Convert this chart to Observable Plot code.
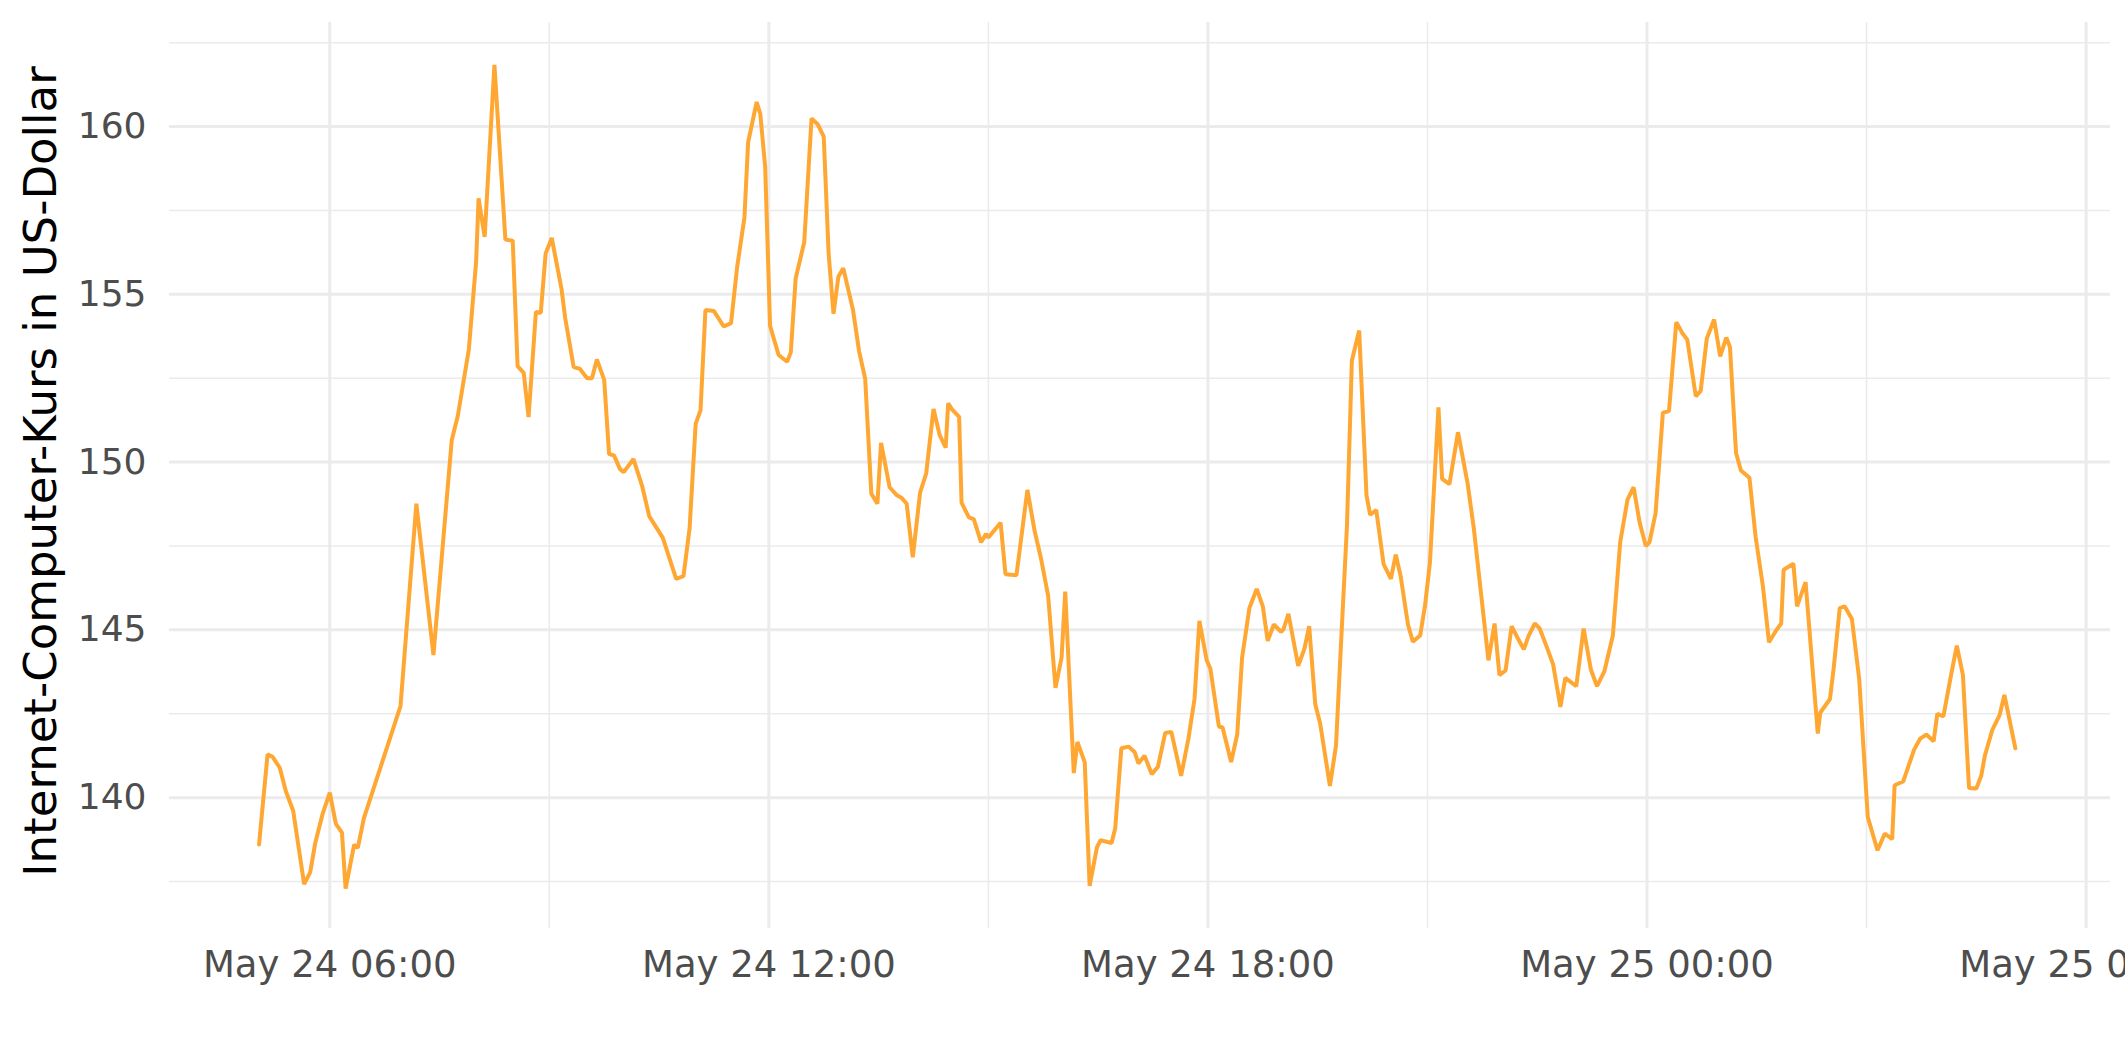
<!DOCTYPE html>
<html>
<head>
<meta charset="utf-8">
<script src="https://cdn.jsdelivr.net/npm/d3@7"></script>
<script src="https://cdn.jsdelivr.net/npm/@observablehq/plot@0.6"></script>
<style>
  html, body { margin: 0; padding: 0; background: #fff; overflow: hidden; }
  svg { display: block; }
</style>
</head>
<body>
<div id="chart"></div>
<script>
// ---- data ----
// time of each observation, in minutes relative to May 24 06:00
const minutesFrom0600 = [
  -58,-51,-47,-41,-36,-30,-21,-16,-12,-6,0,5,10,13,20,23,28,58,71,85,
  100,105,114,120,122,127,135,144,150,154,159,163,169,173,177,182,190,193,200,205,
  211,215,219,225,229,233,238,241,249,256,262,
  273,284,290,295,300,304,308,315,323,329,334,340,343,350,353,357,361,368,375,378,
  382,389,395,400,405,409,413,417,421,429,434,439,444,449,452,459,465,469,473,478,
  484,489,495,500,505,507,510,516,518,524,528,534,538,540,550,554,563,572,578,583,
  589,595,600,603,610,613,619,623,629,632,641,644,649,655,660,663,668,674,679,685,
  690,698,704,709,713,719,722,729,732,739,744,748,754,760,765,769,774,780,782,786,
  794,799,803,808,812,820,825,829,834,838,844,850,853,858,864,870,874,878,884,888,
  894,898,902,
  909,912,918,925,933,938,950,955,959,964,969,974,979,983,988,992,998,1003,1009,1013,
  1022,1028,1034,1039,1045,1052,1058,1064,1069,1074,1079,1082,1087,1093,1098,1104,1109,1113,1120,1124,
  1129,1135,1140,1145,1148,1153,1157,1164,1169,1175,1180,1186,1190,1192,1200,1203,1210,1220,1222,
  1230,1233,1238,1242,1248,1254,1261,1269,1275,1281,1283,1290,1299,1304,1309,1315,1318,1323,1329,1334,
  1339,1344,1350,1354,1357,1363,1369,1373,1382
];
// ICP price in US dollars
const prices = [
  138.60,141.29,141.22,140.89,140.19,139.61,137.42,137.78,138.63,139.50,140.15,139.22,138.96,137.29,138.60,138.50,139.39,142.73,148.76,144.25,
  150.65,151.38,153.35,155.97,157.86,156.71,161.84,156.63,156.60,152.86,152.66,151.34,154.47,154.45,156.22,156.68,155.16,154.30,152.83,152.78,
  152.50,152.50,153.06,152.45,150.24,150.20,149.79,149.70,150.09,149.30,148.38,
  147.75,146.52,146.60,148.02,151.14,151.55,154.53,154.50,154.04,154.14,155.81,157.29,159.53,160.73,160.37,158.79,154.06,153.19,152.99,153.27,
  155.48,156.55,160.24,160.07,159.70,156.22,154.42,155.52,155.78,154.53,153.30,152.48,149.06,148.76,150.57,149.25,149.01,148.93,148.76,147.16,
  149.09,149.66,151.58,150.81,150.43,151.75,151.58,151.35,148.79,148.35,148.30,147.61,147.86,147.75,148.19,146.66,146.63,149.17,147.93,147.15,
  146.01,143.27,144.17,146.14,140.73,141.66,141.05,137.37,138.52,138.73,138.65,139.09,141.47,141.52,141.35,141.02,141.25,140.70,140.92,141.93,
  141.96,140.65,141.76,142.94,145.27,144.09,143.84,142.12,142.09,141.06,141.88,144.17,145.65,146.22,145.70,144.67,145.16,144.94,145.02,145.48,
  143.93,144.42,145.11,142.78,142.21,140.35,141.55,144.50,148.11,153.02,153.92,149.01,148.43,148.57,146.96,146.52,147.24,146.60,145.16,144.65,
  144.83,145.73,147.00,
  151.63,149.50,149.34,150.89,149.34,148.02,144.09,145.19,143.65,143.79,145.11,144.75,144.42,144.83,145.19,145.04,144.47,143.97,142.70,143.57,
  143.32,145.04,143.81,143.32,143.76,144.83,147.61,148.88,149.25,148.19,147.50,147.61,148.47,151.47,151.52,154.17,153.84,153.65,151.96,152.12,
  153.68,154.25,153.15,153.71,153.43,150.27,149.75,149.53,147.78,146.30,144.63,144.99,145.19,146.79,146.97,145.70,146.42,141.91,142.53,
  142.94,143.84,145.65,145.70,145.32,143.52,139.42,138.43,138.93,138.76,140.37,140.48,141.43,141.76,141.88,141.68,142.50,142.42,143.60,144.53,
  143.65,140.29,140.27,140.65,141.25,142.01,142.45,143.06,141.47
];
// axis ticks
const xMajorMinutes = [0, 360, 720, 1080, 1440];   // May 24 06:00 … May 25 06:00
const xMinorMinutes = [180, 540, 900, 1260];
const yMajorTicks = [140, 145, 150, 155, 160];
const yMinorTicks = [137.5, 142.5, 147.5, 152.5, 157.5, 162.5];
const yTitle = "Internet-Computer-Kurs in US-Dollar";

// ---- build ----
const base = Date.UTC(2021, 4, 24, 6, 0);
const toDate = m => new Date(base + m * 60000);
const data = minutesFrom0600.map((m, i) => ({time: toDate(m), price: prices[i]}));
const grid = "#EBEBEB";

const chart = Plot.plot({
  width: 2125,
  height: 1062,
  marginLeft: 169,
  marginRight: 15,
  marginTop: 22,
  marginBottom: 134,
  style: {fontFamily: "DejaVu Sans", fontSize: "36px", background: "#fff", overflow: "visible"},
  x: {type: "utc", domain: [toDate(-131.4), toDate(1460)]},
  y: {domain: [136.10, 163.10]},
  marks: [
    Plot.gridY(yMinorTicks, {stroke: grid, strokeOpacity: 1, strokeWidth: 1.5}),
    Plot.gridY(yMajorTicks, {stroke: grid, strokeOpacity: 1, strokeWidth: 3}),
    Plot.gridX(xMinorMinutes.map(toDate), {stroke: grid, strokeOpacity: 1, strokeWidth: 1.5}),
    Plot.gridX(xMajorMinutes.map(toDate), {stroke: grid, strokeOpacity: 1, strokeWidth: 3}),
    Plot.axisY(yMajorTicks, {tickSize: 0, tickPadding: 23, fontSize: 36, fill: "#4D4D4D", label: null}),
    Plot.axisX(xMajorMinutes.map(toDate), {tickSize: 0, tickPadding: 22, fontSize: 37, fill: "#4D4D4D", label: null,
      tickFormat: d3.utcFormat("%b %d %H:%M")}),
    Plot.line(data, {x: "time", y: "price", stroke: "#FFA733", strokeWidth: 4, strokeLinejoin: "miter"}),
    Plot.text([yTitle], {frameAnchor: "left", rotate: -90, dx: -128, dy: -4, textAnchor: "middle", lineAnchor: "middle",
      fontSize: 45, fill: "#000"})
  ]
});
document.getElementById("chart").appendChild(chart);
</script>
</body>
</html>
